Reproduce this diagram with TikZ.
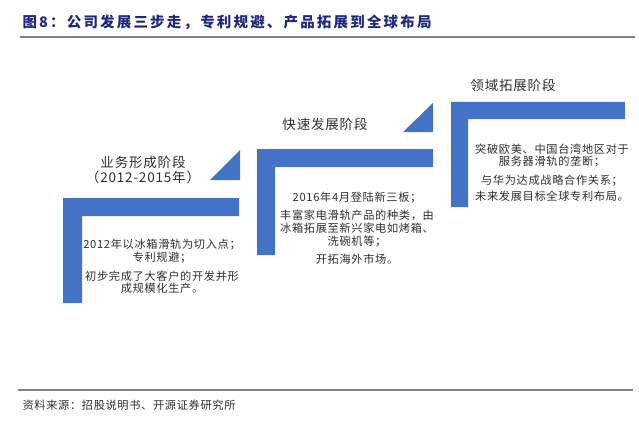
\documentclass[tikz,border=0pt]{standalone}
\usepackage{fontspec}
\setmainfont{Noto Sans CJK SC}
\newfontfamily\titlecjk[LetterSpace=15]{Noto Sans CJK SC}
\newfontfamily\bodycjk[LetterSpace=6]{Noto Sans CJK SC}
\usetikzlibrary{positioning}
\definecolor{StageBlue}{RGB}{68,114,196}
\definecolor{TitleNavy}{RGB}{32,40,125}
\definecolor{RuleGray}{RGB}{128,128,128}
\definecolor{TextDark}{RGB}{45,45,45}
\tikzset{
  stagename/.style={font=\bodycjk\fontsize{13.5}{15.5}\selectfont,text=TextDark,align=center},
  stagedesc/.style={font=\bodycjk\fontsize{11.2}{12.8}\selectfont,text=TextDark,align=center},
  stagebar/.style={fill=StageBlue},
}

\begin{document}
\begin{tikzpicture}[x=1pt,y=-1pt]
  \useasboundingbox (0,0) rectangle (639,425);
  % heading and rules
  \node[anchor=west,text=TitleNavy,font=\titlecjk\bfseries\fontsize{14.5}{16}\selectfont] (heading) at (19,22) {图8：公司发展三步走，专利规避、产品拓展到全球布局};
  \draw[RuleGray,line width=2] (20,37)--(635,37);
  \draw[RuleGray,line width=1.5] (18,390)--(633,390);
  \node[anchor=west,font=\bodycjk\fontsize{11.2}{13}\selectfont,text=TextDark] (source) at (19,405) {资料来源：招股说明书、开源证券研究所};
  % stage 1
  \fill[stagebar] (63,198)--(239,198)--(239,216)--(82,216)--(82,303)--(63,303)--cycle;
  \fill[stagebar] (210,180)--(240,180)--(240,150)--cycle;
  \node[stagename] (s1name) at (143,170) {业务形成阶段\\（2012-2015年）};
  \node[stagedesc] (s1desc) at (162,266.5) {2012年以冰箱滑轨为切入点；\\专利规避；\\[6pt]初步完成了大客户的开发并形\\成规模化生产。};
  % stage 2
  \fill[stagebar] (257,149)--(433,149)--(433,167)--(275,167)--(275,255)--(257,255)--cycle;
  \fill[stagebar] (403,132)--(433,132)--(433,103)--cycle;
  \node[stagename] (s2name) at (325,124) {快速发展阶段};
  \node[stagedesc] (s2desc) at (357,228.5) {2016年4月登陆新三板；\\[5pt]丰富家电滑轨产品的种类，由\\冰箱拓展至新兴家电如烤箱、\\洗碗机等；\\[6pt]开拓海外市场。};
  % stage 3
  \fill[stagebar] (451,102)--(625,102)--(625,119)--(468,119)--(468,207)--(451,207)--cycle;
  \node[stagename] (s3name) at (513,85) {领域拓展阶段};
  \node[stagedesc] (s3desc) at (552,172.5) {突破欧美、中国台湾地区对于\\服务器滑轨的垄断；\\[6pt]与华为达成战略合作关系；\\[3pt]未来发展目标全球专利布局。};
\end{tikzpicture}
\end{document}
